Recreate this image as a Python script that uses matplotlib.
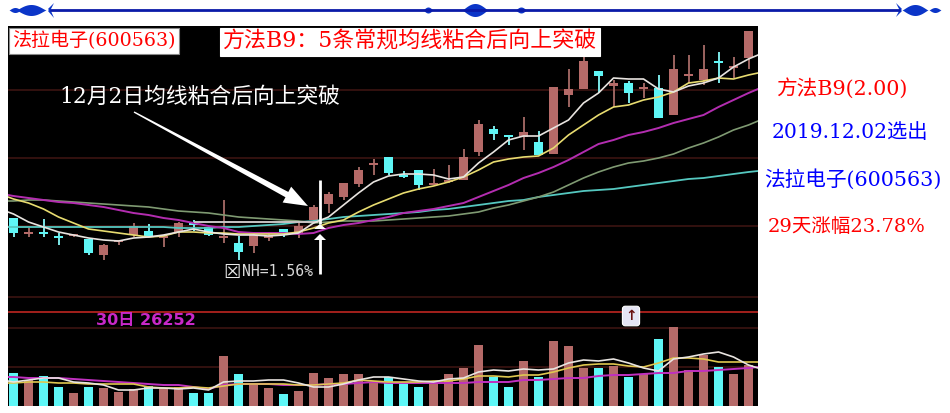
import numpy as np
import matplotlib
matplotlib.use('Agg')
from matplotlib import pyplot as plt

W, H = 950, 413
SERIF = ['DejaVu Serif', 'Noto Sans CJK SC']

colour = list('cr' 'cc' 'r' 'c' 'rrr' 'c' 'rr' 'cc' 'r' 'c' 'rr' 'c' 'rrrrrr' 'ccc' 'rrrr' 'cc' 'r' 'c' 'rrr' 'c' 'r' 'c' 'r' 'c' 'rrr' 'c' 'rr')
body_top = [218,232,232,236,234,239,245,240,226,231,236,223,223,227,236,243,235,236,229,226,207,194,183,170,163,157,175,170,183,180,157,124,129,135,132,142,87,89,61,71,83,83,87,88,69,74,69,61,66,31]
body_bot = [233,234,234,238,236,253,255,242,235,237,238,232,225,235,238,252,246,238,233,233,220,204,197,184,165,173,177,185,185,182,180,152,134,137,137,155,154,95,89,76,86,93,89,118,115,76,80,63,68,58]
high = [218,228,219,233,234,239,244,240,223,224,236,222,220,227,200,236,232,232,229,223,205,192,183,167,159,157,171,170,169,165,149,120,126,135,117,131,87,69,55,71,80,81,83,75,55,55,45,52,57,31]
low = [237,237,237,245,237,255,260,245,237,237,247,237,231,236,243,260,253,241,237,238,222,213,200,187,175,175,178,190,185,183,180,156,140,145,150,155,154,107,89,93,107,103,98,118,115,83,85,83,78,69]

# moving averages, first and last value are at the panel edges
ma_white = [212,214,222,227,232,235,238,240,241,238,237,235,232,229,232,234,235,235,236,235,233,223,217,205,193,182,176,174,174,175,179,177,163,152,140,136,136,128,120,103,93,78,79,79,89,92,86,83,78,67,59,55]
ma_yellow = [197,199,203,209,217,223,229,231,233,235,237,236,232,232,233,233,234,234,234,234,232,228,223,220,212,205,199,193,189,186,182,177,170,162,159,157,156,148,135,125,115,107,105,100,97,92,83,81,78,79,75,73]
ma_magenta = [195,196,198,200,202,203,205,207,210,213,215,218,220,223,226,228,232,233,233,233,234,233,228,225,223,220,217,213,211,209,206,203,197,191,185,178,173,167,160,152,144,140,135,132,128,123,119,115,107,100,93,89]
ma_green = [201,201,200,200,201,202,203,204,205,206,207,209,211,212,213,215,217,218,219,220,221,223,222,221,221,221,220,219,218,217,216,214,212,208,205,201,197,192,185,178,172,167,163,161,158,154,148,143,137,130,125,121]
ma_teal = [227,227,227,227,227,227,227,227,227,227,227,227,228,228,228,227,227,226,225,224,222,221,219,217,216,215,214,213,212,210,209,207,205,203,201,200,197,195,193,191,190,189,187,185,183,181,179,178,176,174,172,171]

volume = [373,380,376,387,393,387,388,392,389,386,388,387,393,393,356,374,384,388,394,391,373,378,374,374,382,377,383,387,383,374,368,345,377,387,361,377,341,346,368,368,366,377,374,339,327,370,355,367,374,365]
vol_white = [381,382,380,378,378,382,383,385,390,390,388,388,389,388,390,382,381,381,380,380,383,387,387,384,380,377,377,379,381,382,379,378,372,370,371,369,370,369,363,360,361,359,363,368,371,359,357,354,352,357,365,368]
vol_yellow = [383,383,382,382,383,383,384,384,384,384,387,388,388,387,388,386,384,384,384,384,385,385,384,383,380,381,382,382,382,381,381,379,376,376,377,375,375,372,368,365,364,364,366,367,363,358,358,359,362,362,362,362]
vol_magenta = [377,377,378,378,378,379,380,381,382,383,384,385,385,387,389,385,384,384,384,385,385,385,384,384,383,382,383,383,383,383,383,383,382,382,382,380,380,379,378,378,376,375,375,374,373,373,371,371,370,369,368,367]

level_dark = [90, 158, 226, 297, 328, 367]
level_red = [312]

days = np.arange(len(body_top))
x_left, x_right = -0.367, 49.633
ma_x = np.r_[x_left, days, x_right]
fills = {'r': '#b56a68', 'c': '#5ef6f6'}
wicks = {'r': '#9c6460', 'c': '#7de8e8'}

fig = plt.figure(figsize=(W / 100, H / 100), dpi=100, facecolor='white')

# chart panel
ax = fig.add_axes([8 / W, 1 - 406 / H, 750 / W, 380 / H], facecolor='black')
ax.set_xlim(x_left, x_right)
ax.set_ylim(406, 26)
ax.set_xticks([]), ax.set_yticks([])
for s in ax.spines.values():
    s.set_visible(False)

for y in level_dark:
    ax.axhline(y, color='#3c1412', lw=1.2, zorder=1)
for y in level_red:
    ax.axhline(y, color='#a3201c', lw=1.4, zorder=1)

cols = [fills[c] for c in colour]
ax.vlines(days, high, low, colors=[wicks[c] for c in colour], lw=1.4, zorder=2)
ax.bar(days, np.maximum(np.subtract(body_bot, body_top), 2), bottom=body_top, width=0.6, color=cols, zorder=3)
ax.bar(days, 406 - np.array(volume), bottom=volume, width=0.6, color=cols, zorder=2)

ax.plot(ma_x, ma_teal, color='#55c8c0', lw=1.3, zorder=4)
ax.plot(ma_x, ma_green, color='#7f9a72', lw=1.2, zorder=4)
ax.plot(ma_x, ma_magenta, color='#b32db0', lw=1.4, zorder=4)
ax.plot(ma_x, ma_yellow, color='#e8dc70', lw=1.2, zorder=5)
ax.plot(ma_x, ma_white, color='#e8e4e0', lw=1.2, zorder=6)
ax.hlines(222, 12, 20.3, color='#c8c4c4', lw=1.4, zorder=5)

ax.plot(ma_x, vol_magenta, color='#c030c0', lw=1.4, zorder=4)
ax.plot(ma_x, vol_yellow, color='#e0c850', lw=1.2, zorder=5)
ax.plot(ma_x, vol_white, color='#e8e4e0', lw=1.2, zorder=6)

# overlay in picture pixels for the texts and ornaments
ov = fig.add_axes([0, 0, 1, 1], facecolor='none')
ov.set_xlim(0, W)
ov.set_ylim(H, 0)
ov.axis('off')


def lens(cx, half, h):
    t = np.linspace(-1, 1, 40)
    bulge = h * (1 - t ** 2) ** 1.3
    ov.fill_between(cx + half * t, 10 - bulge, 10 + bulge, color='#0b35c8', lw=0)


ov.plot([50, 900], [10, 10], color='#0a1aa8', lw=2, solid_capstyle='butt')
for cx, half, h in [(15, 6, 2.5), (31, 15, 5.5), (428, 5, 3), (475, 13, 6.5), (521, 5.5, 3), (915, 13, 5.5), (935, 6, 2.5)]:
    lens(cx, half, h)
ov.fill([54, 48, 49, 48, 54, 51, 51], [3, 9, 10, 11, 18, 11, 9], color='#0b35c8', lw=0)
ov.fill([896, 902, 901, 902, 896, 899, 899], [3, 9, 10, 11, 17, 11, 9], color='#0b35c8', lw=0)


def label(x, y, s, color, size, **kw):
    ov.text(x, y, s, color=color, fontsize=size, family=SERIF, va='center', **kw)


label(12, 41, '法拉电子(600563)', '#ff0000', 13.7,
      bbox=dict(facecolor='white', edgecolor='#888888', lw=0.8, pad=2.5))
label(223, 42, '方法B9\uff1a5条常规均线粘合后向上突破', '#ff0000', 15.8,
      bbox=dict(facecolor='white', edgecolor='white', lw=0.8, pad=2))
label(59, 97, '12月2日均线粘合后向上突破', 'white', 15.7)

label(842, 88, '方法B9(2.00)', '#ff0000', 14.9, ha='center')
label(849.5, 133, '2019.12.02选出', '#0000ff', 14.6, ha='center')
label(853, 179, '法拉电子(600563)', '#0000ff', 14.9, ha='center')
label(847, 227, '29天涨幅23.78%', '#ff0000', 14, ha='center')

# the big white pointer, narrow at its tail
tail = np.array([134, 112.])
tip = np.array([308, 206.])
along = (tip - tail) / np.linalg.norm(tip - tail)
side = np.array([-along[1], along[0]])
neck = tip - 24 * along
arrow = np.array([tail + 0.7 * side, neck + 3 * side, neck + 9 * side, tip,
                  neck - 9 * side, neck - 3 * side, tail - 0.7 * side])
ov.fill(arrow[:, 0], arrow[:, 1], color='white', lw=0)

ov.plot([320, 320], [180, 224], color='white', lw=2, solid_capstyle='butt')
ov.plot([320, 320], [237, 274], color='white', lw=2, solid_capstyle='butt')
ov.fill([314, 320, 326], [229, 224, 229], color='white', lw=0)
ov.fill([314, 320, 326], [240, 234, 240], color='white', lw=0)

ov.text(223, 272, '☒', color='#e8e8e8', fontsize=14, family='DejaVu Sans', va='center')
ov.text(242, 272, 'NH=1.56%', color='#d8d8d8', fontsize=10.6, family='DejaVu Sans Mono', va='center')
ov.text(96, 321, '30日 26252', color='#c828c8', fontsize=11.6, fontweight='bold',
        family=['DejaVu Sans', 'Noto Sans CJK SC'], va='center')
ov.text(631, 316, '↑', color='#6a1010', fontsize=10, fontweight='bold', family='DejaVu Sans',
        ha='center', va='center',
        bbox=dict(boxstyle='round,pad=0.2', facecolor='#e4e4f4', edgecolor='white', lw=0.8))

fig.savefig('out.png', dpi=100)
